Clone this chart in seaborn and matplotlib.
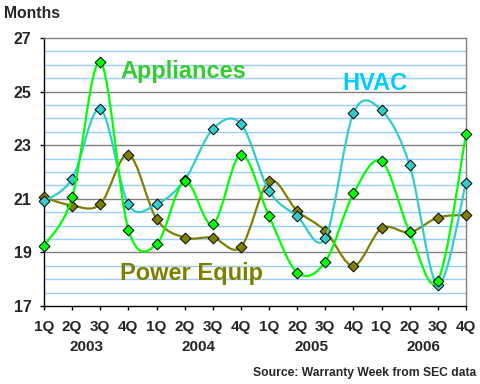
import numpy as np
import pandas as pd
import seaborn as sns
import matplotlib.pyplot as plt
from matplotlib.path import Path
from matplotlib.patches import PathPatch


# data (months of warranty reserve)
quarters = ['1Q', '2Q', '3Q', '4Q'] * 4
years = ['2003', '2004', '2005', '2006']
appliances = [19.25, 21.05, 26.1, 19.85, 19.3, 21.65, 20.05, 22.65,
              20.35, 18.25, 18.65, 21.2, 22.4, 19.75, 17.95, 23.4]
hvac = [20.9, 21.75, 24.35, 20.8, 20.8, 21.7, 23.6, 23.8,
        21.3, 20.35, 19.55, 24.2, 24.3, 22.25, 17.8, 21.6]
power_equip = [21.05, 20.75, 20.8, 22.65, 20.25, 19.55, 19.55, 19.2,
               21.65, 20.55, 19.8, 18.5, 19.9, 19.75, 20.3, 20.4]

# drawing order: power equip at the back, appliances on top
series = {
    'Power Equip': (power_equip, '#808000'),
    'HVAC': (hvac, '#33cccc'),
    'Appliances': (appliances, '#00ff00'),
}


def smooth_path(x, y):
    # excel-style smoothed line: catmull-rom turned into cubic beziers
    pts = np.column_stack([x, y]).astype(float)
    ext = np.vstack([pts[0], pts, pts[-1]])
    verts, codes = [pts[0]], [Path.MOVETO]
    for i in range(1, len(ext) - 2):
        p0, p1, p2, p3 = ext[i - 1], ext[i], ext[i + 1], ext[i + 2]
        verts += [p1 + (p2 - p0) / 6, p2 - (p3 - p1) / 6, p2]
        codes += [Path.CURVE4] * 3
    return Path(verts, codes)


sns.set_style('white')
plt.rcParams['font.family'] = ['Liberation Sans', 'DejaVu Sans']
plt.rcParams['font.weight'] = 'bold'

fig = plt.figure(figsize=(4.8, 3.84), dpi=100)
ax = fig.add_axes([44 / 480, 1 - 306 / 384, 422 / 480, 268 / 384])

# grid: light blue every 0.5, gray every 2
for v in np.arange(17.5, 27, 0.5):
    if (v - 17) % 2:
        ax.axhline(v, color='#99ccff', lw=1, zorder=0)
for v in range(19, 27, 2):
    ax.axhline(v, color='#808080', lw=1, zorder=0)

for k, (name, (vals, color)) in enumerate(series.items()):
    ax.add_patch(PathPatch(smooth_path(range(len(vals)), vals), fill=False,
                           edgecolor=color, lw=1.6, zorder=2 + 2 * k, clip_on=False))
    df = pd.DataFrame({'idx': range(len(vals)), 'months': vals})
    sns.scatterplot(data=df, x='idx', y='months', marker='D', s=30,
                    color=color, edgecolor='black', linewidth=0.7,
                    zorder=3 + 2 * k, clip_on=False, ax=ax)

ax.set_xlim(0, 15)
ax.set_ylim(17, 27)
ax.set_xticks(range(16))
ax.set_xticklabels(quarters)
ax.set_yticks(range(17, 28, 2))
ax.set_xlabel('')
ax.set_ylabel('')
ax.tick_params(axis='x', length=3, width=1, pad=7, labelsize=11, color='black')
ax.tick_params(axis='y', length=3, width=1, pad=6, labelsize=11.5, color='black')
ax.tick_params(left=True, bottom=True)
for s in ['left', 'bottom']:
    ax.spines[s].set_color('black')
    ax.spines[s].set_linewidth(1)
for s in ['top', 'right']:
    ax.spines[s].set_color('#808080')
    ax.spines[s].set_linewidth(1)

for i, yr in enumerate(years):
    ax.text(i * 4 + 1.5, -0.153, yr, transform=ax.get_xaxis_transform(),
            ha='center', va='center', fontsize=11, fontweight='bold')

ax.text(2.7, 25.75, 'Appliances', color='#33cc33', fontsize=17, fontweight='bold',
        va='center')
ax.text(10.6, 25.3, 'HVAC', color='#00ccff', fontsize=17, fontweight='bold',
        va='center')
ax.text(2.7, 18.2, 'Power Equip', color='#808000', fontsize=17, fontweight='bold',
        va='center')

fig.text(4 / 480, 1 - 13 / 384, 'Months', fontsize=11.3, fontweight='bold',
         ha='left', va='center')
fig.text(476 / 480, 1 - 373 / 384, 'Source: Warranty Week from SEC data',
         fontsize=8.7, fontweight='bold', ha='right', va='center')

fig.savefig('out.png', dpi=100)
